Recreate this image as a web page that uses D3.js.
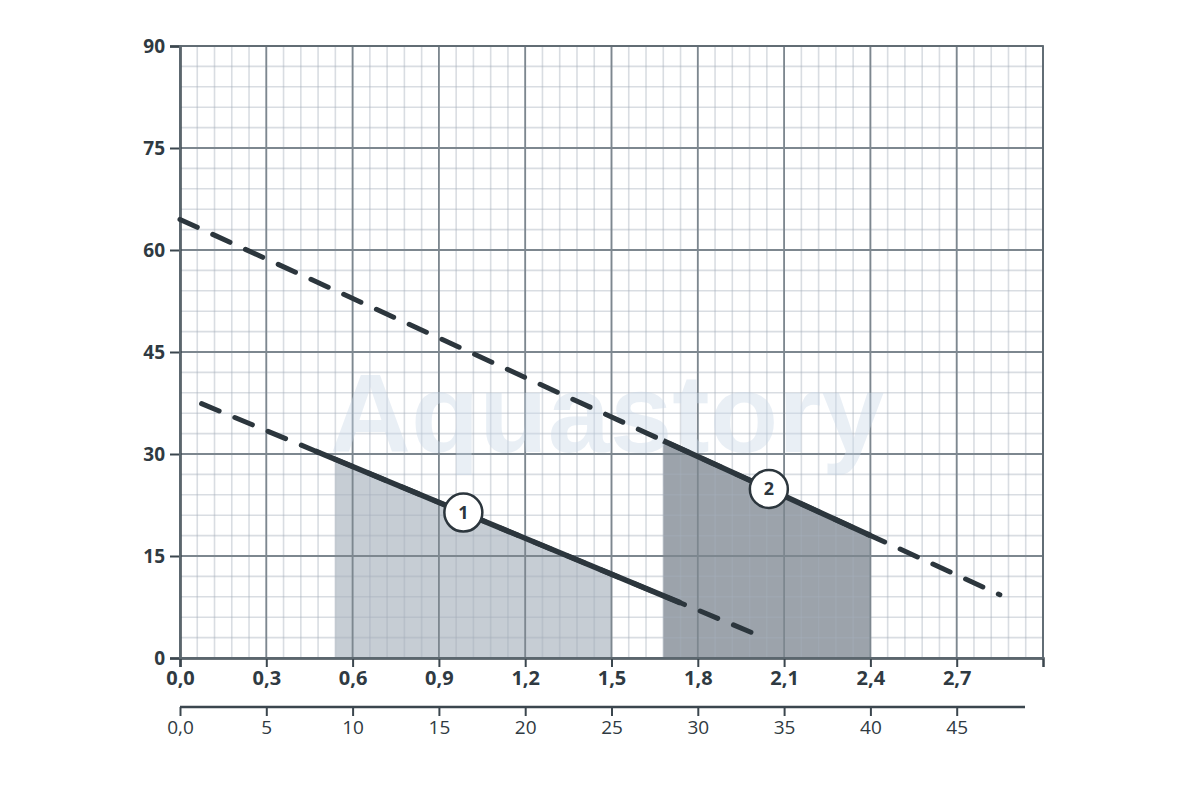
<!DOCTYPE html>
<html>
<head>
<meta charset="utf-8">
<script src="https://cdn.jsdelivr.net/npm/d3@7"></script>
<style>
  html, body { margin: 0; padding: 0; background: #fff; }
  svg { display: block; font-family: "Open Sans", "Noto Sans", sans-serif; }
</style>
</head>
<body>
<div class="chart"></div>
<script>
// flow (top axis) and head (left axis) ticks
var flowTicks = [0, 0.3, 0.6, 0.9, 1.2, 1.5, 1.8, 2.1, 2.4, 2.7];
var headTicks = [0, 15, 30, 45, 60, 75, 90];
var flow2Ticks = [0, 5, 10, 15, 20, 25, 30, 35, 40, 45];

// pump curves: full (dashed) extent and recommended working range (solid)
var pump1Curve = [[0.075, 37.4], [2.03, 3.0]];
var pump1Work = [0.47, 1.74];
var pump1Zone = [0.54, 1.5];
var pump1Label = 0.985;

var pump2Curve = [[0.0, 64.5], [2.85, 9.3]];
var pump2Work = [1.68, 2.4];
var pump2Zone = [1.68, 2.4];
var pump2Label = 2.047;

var W = 1200, H = 800;
var svg = d3.select(".chart").append("svg")
  .attr("width", W)
  .attr("height", H);

var x = d3.scaleLinear().domain([0, 3]).range([180, 1043]);
var y = d3.scaleLinear().domain([0, 90]).range([658, 46]);
var x2 = d3.scaleLinear().domain([0, 50]).range([180, 1043]);

var comma = (v) => d3.format(".1f")(v).replace(".", ",");

// value on a straight curve
const onCurve = (curve, f) => {
  var a = curve[0], b = curve[1];
  return a[1] + (b[1] - a[1]) * (f - a[0]) / (b[0] - a[0]);
}

// shaded working zones
const zone = (curve, range, color) => {
  var pts = range.map(f => ({ f: f, h: onCurve(curve, f) }))
  svg.append("path")
    .attr("d", d3.area().x(p => x(p.f)).y0(y(0)).y1(p => y(p.h))(pts))
    .attr("fill", color)
}
zone(pump1Curve, pump1Zone, "#c6cdd4");
zone(pump2Curve, pump2Zone, "#9ca3ab");

// minor grid
var grid = svg.append("g");
d3.range(0, 3.0001, 0.06).forEach(v => {
  grid.append("line")
    .attr("x1", x(v)).attr("x2", x(v))
    .attr("y1", y(0)).attr("y2", y(90))
    .attr("stroke", "#a4afb9").attr("stroke-opacity", 0.42).attr("stroke-width", 1.6)
})
d3.range(0, 90.001, 3).forEach(v => {
  grid.append("line")
    .attr("x1", x(0)).attr("x2", x(3))
    .attr("y1", y(v)).attr("y2", y(v))
    .attr("stroke", "#a4afb9").attr("stroke-opacity", 0.42).attr("stroke-width", 1.6)
})

// major grid
d3.range(0, 3.0001, 0.3).forEach(v => {
  svg.append("line")
    .attr("x1", x(v)).attr("x2", x(v))
    .attr("y1", y(0)).attr("y2", y(90))
    .attr("stroke", "#7d878f").attr("stroke-width", 1.8)
})
headTicks.forEach(v => {
  svg.append("line")
    .attr("x1", x(0)).attr("x2", x(3))
    .attr("y1", y(v)).attr("y2", y(v))
    .attr("stroke", "#7d878f").attr("stroke-width", 1.8)
})

// watermark
svg.append("text")
  .attr("x", 607).attr("y", 452)
  .attr("text-anchor", "middle")
  .attr("font-family", "Liberation Sans, Arial, sans-serif")
  .attr("font-weight", "bold")
  .attr("font-size", 112)
  .attr("fill", "#c9d8e8")
  .attr("opacity", 0.4)
  .text("Aquastory")

// axes
var axisColor = "#3b464e";
var yAxis = svg.append("g")
  .attr("transform", `translate(${x(0)},0)`)
  .call(d3.axisLeft(y).tickValues(headTicks).tickSize(10).tickPadding(5).tickFormat(d3.format("d")));
var xAxis = svg.append("g")
  .attr("transform", `translate(0,${y(0)})`)
  .call(d3.axisBottom(x).tickValues(flowTicks).tickSize(9).tickPadding(4).tickFormat(comma));
var xAxis2 = svg.append("g")
  .attr("transform", "translate(0,707)")
  .call(d3.axisBottom(x2).tickValues(flow2Ticks).tickSize(9).tickPadding(5)
    .tickFormat(v => v === 0 ? "0,0" : d3.format("d")(v)));

[yAxis, xAxis, xAxis2].forEach(a => {
  a.select(".domain").attr("stroke", axisColor).attr("stroke-width", 2.5)
  a.selectAll(".tick line").attr("stroke", axisColor).attr("stroke-width", 2)
  a.selectAll(".tick text")
    .attr("fill", "#2f3a42")
    .attr("font-size", 19)
    .attr("font-family", "Open Sans, sans-serif")
})
yAxis.selectAll(".tick text").attr("font-weight", "bold").attr("font-size", 19)
xAxis.selectAll(".tick text").attr("font-weight", "bold").attr("font-size", 20)
xAxis2.select(".domain").attr("d", "M180,0H1025")

// plot border
svg.append("rect")
  .attr("x", x(0)).attr("y", y(90))
  .attr("width", x(3) - x(0)).attr("height", y(0) - y(90))
  .attr("fill", "none").attr("stroke", "#5f6a72").attr("stroke-width", 1.8)

// pump curves
var line = d3.line().x(p => x(p[0])).y(p => y(p[1]));
const drawPump = (curve, work, labelAt, label) => {
  svg.append("path")
    .attr("d", line(curve))
    .attr("fill", "none")
    .attr("stroke", "#2c363d")
    .attr("stroke-width", 5)
    .attr("stroke-linecap", "round")
    .attr("stroke-dasharray", "19,17")

  svg.append("path")
    .attr("d", line(work.map(f => [f, onCurve(curve, f)])))
    .attr("fill", "none")
    .attr("stroke", "#2c363d")
    .attr("stroke-width", 5.5)

  var g = svg.append("g")
    .attr("transform", `translate(${x(labelAt)},${y(onCurve(curve, labelAt))})`)
  g.append("circle")
    .attr("r", 19)
    .attr("fill", "#fff")
    .attr("stroke", "#2c363d")
    .attr("stroke-width", 2.5)
  g.append("text")
    .attr("text-anchor", "middle")
    .attr("dy", "0.36em")
    .attr("font-size", 18)
    .attr("font-weight", "bold")
    .attr("fill", "#2c363d")
    .text(label)
}
drawPump(pump1Curve, pump1Work, pump1Label, "1");
drawPump(pump2Curve, pump2Work, pump2Label, "2");
</script>
</body>
</html>
